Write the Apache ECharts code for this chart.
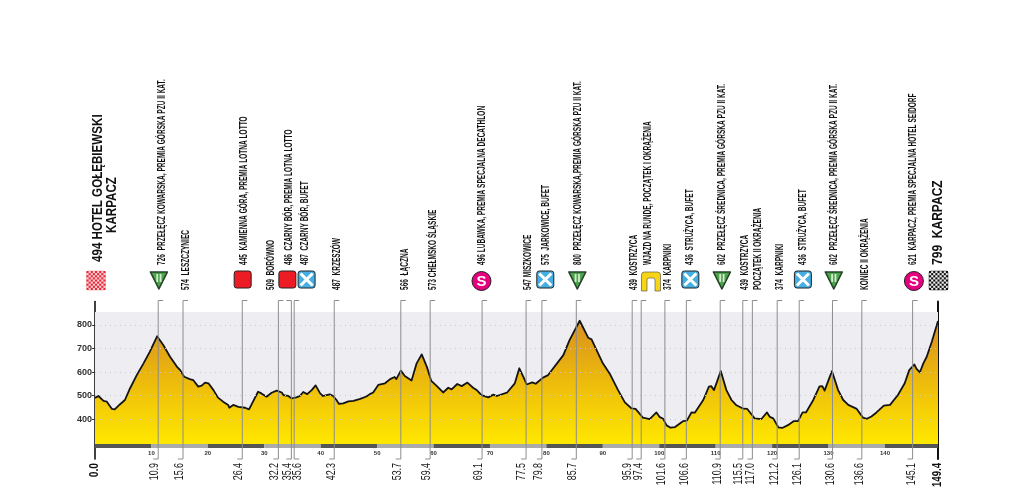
<!DOCTYPE html>
<html><head><meta charset="utf-8">
<style>html,body{margin:0;padding:0;background:#fff}#c{width:1024px;height:502px}</style>
<script src="https://cdn.jsdelivr.net/npm/echarts@6/dist/echarts.min.js"></script>
</head><body><div id="c"></div>
<script>
var profileKm=[0,0.6,1.5,2.1,3.0,3.5,4.4,5.3,6.2,7.4,8.6,9.7,11.0,12.1,13.3,14.5,15.1,15.8,16.8,17.4,18.3,18.9,19.5,20.1,21.0,21.8,22.7,23.6,23.8,24.5,25.4,26.6,27.3,28.0,28.9,29.5,30.4,31.3,32.2,33.1,33.4,34.2,34.8,35.7,36.3,36.9,37.6,38.4,39.1,39.9,40.4,41.0,41.6,42.2,42.8,43.2,44.0,44.9,45.8,47.0,48.1,48.7,49.3,50.2,51.4,52.3,53.1,53.4,54.2,54.9,56.1,57.0,57.9,58.8,59.6,60.5,61.7,62.6,63.2,64.2,65.0,66.0,67.0,67.7,68.5,69.7,70.6,71.2,73.0,74.4,75.2,75.9,76.5,77.5,78.1,79.4,80.3,83.0,84.1,85.9,87.4,88.0,90.0,91.2,92.7,93.9,95.1,95.8,97.1,98.3,99.5,100.1,100.7,101.3,102.0,102.8,104.2,104.9,105.7,106.3,107.8,108.8,109.2,109.7,110.9,111.9,112.8,113.6,114.9,115.6,116.9,118.1,119.1,119.6,120.2,121.1,121.8,122.8,123.8,124.6,125.4,126.0,127.3,128.4,128.9,129.3,130.6,131.7,132.6,133.5,135.0,136.1,136.8,137.6,138.5,139.8,140.9,142.3,143.5,144.3,145.2,145.6,146.2,146.8,147.4,148.3,149.4];
var profileElev=[490,498,477,474,443,441,462,481,530,587,637,686,752,715,665,623,608,580,570,566,538,542,555,552,523,491,474,460,448,460,452,448,441,474,516,509,495,512,521,513,502,499,488,492,498,515,506,523,543,509,498,502,505,498,481,465,467,475,477,486,496,506,513,545,552,570,579,570,606,583,564,637,675,623,562,542,513,533,526,549,540,555,533,522,502,492,504,498,512,552,616,580,547,556,550,576,587,672,736,818,746,739,637,594,523,471,445,443,406,400,428,408,401,373,363,366,391,393,428,427,481,538,540,523,604,523,481,460,444,443,403,400,428,409,403,365,362,374,391,391,428,428,481,539,540,521,604,523,481,460,443,406,401,411,428,457,460,502,552,608,632,613,599,637,665,729,817];

var kmRange=[0,149.4];
var elevRange=[230,900];
var yTicks=[400,500,600,700,800];
var xTicks=[10,20,30,40,50,60,70,80,90,100,110,120,130,140];
var baseElev=294;
var skyTop=855;
var bandStarts=[0,10,20,30,40,50,60,70,80,90,100,110,120,130,140];
var bandEnds=[10,20,30,40,50,60,70,80,90,100,110,120,130,140,149.4];

var lineKm=[11.2,15.6,26.1,32.5,34.8,35.3,42.4,54.2,59.4,68.6,76.4,79.2,85.3,95.2,96.8,101.0,104.8,110.8,114.8,116.5,120.9,124.8,130.7,135.9,144.9];
var kmLabels=["10.9","15.6","26.4","32.2","35.4","35.6","42.3","53.7","59.4","69.1","77.5","79.8","85.7","95.9","97.4","101.6","106.6","110.9","115.5","117.0","121.2","126.1","130.6","136.6","145.1"];
var topLabels=["726  PRZEŁĘCZ KOWARSKA, PREMIA GÓRSKA PZU II KAT.","574  LESZCZYNIEC","445  KAMIENNA GÓRA, PREMIA LOTNA LOTTO","509  BORÓWNO","486  CZARNY BÓR, PREMIA LOTNA LOTTO","487  CZARNY BÓR, BUFET","487  KRZESZÓW","566  ŁĄCZNA","573 CHEŁMSKO ŚLĄSKIE","496 LUBAWKA, PREMIA SPECJALNA DECATHLON","547 MISZKOWICE","575  JARKOWICE, BUFET","800  PRZEŁĘCZ KOWARSKA,PREMIA GÓRSKA PZU II KAT.","439  KOSTRZYCA","WJAZD NA RUNDĘ, POCZĄTEK I OKRĄŻENIA","374  KARPNIKI","436  STRUŻYCA, BUFET","602  PRZEŁĘCZ ŚREDNICA, PREMIA GÓRSKA PZU II KAT.","439  KOSTRZYCA","POCZĄTEK II OKRĄŻENIA","374  KARPNIKI","436  STRUŻYCA, BUFET","602  PRZEŁĘCZ ŚREDNICA, PREMIA GÓRSKA PZU II KAT.","KONIEC II OKRĄŻENIA","621  KARPACZ, PREMIA SPECJALNA HOTEL SEIDORF"];
var icons=["tri","","red","","red","blue","","","","s","","blue","tri","","arch","","blue","tri","","","","blue","tri","","s"];

var labelDx=[3.4,2.7,1.7,-7.6,-2.4,10.7,2.4,4,2.7,-0.6,2,4.4,1.3,1.7,6.3,2.7,4,1.4,2.7,5.3,2.7,4,1.3,2.7,0.3];
var iconDx=[0.7,0,0.4,0,-4,12.4,0,0,0,-0.6,0,3.4,1,0,9.8,0,4,1.7,0,0,0,3.7,1.3,0,1.3];
var kmDx=[-3.3,-3.3,-3.3,-3.3,-3.4,4,-2.6,-3,-3.6,-3.3,-4.3,-3.3,-3.4,-4,-2.4,-3,-1.7,-2.3,-4.3,-1.7,-2.3,-1.3,-2,-2.3,-1];
var bottomTickDir=[-1,-1,-1,-1,-1,1,-1,-1,-1,-1,-1,-1,-1,-1,-1,-1,-1,-1,-1,-1,-1,-1,-1,-1,-1];
var topTickDir=[1,1,1,1,-1,1,1,1,1,1,1,1,1,1,1,1,1,1,1,1,1,1,1,1,1];

var FONT="'Liberation Sans',Arial,sans-serif";
var INK="#111";

function rotText(txt,x,y,o){
  o=o||{};
  return {type:'text',x:x,y:y,rotation:Math.PI/2,scaleX:o.scale||1,z2:10,
    style:{text:txt,x:0,y:0,align:o.align||'left',verticalAlign:'middle',
      font:(o.bold===false?'':'bold ')+(o.size||10)+'px '+FONT,fill:o.color||INK}};
}
function checker(cx,top,size,a,b,stroke){
  var kids=[],n=9,s=size/n,x0=cx-size/2;
  kids.push({type:'rect',shape:{x:x0,y:top,width:size,height:size,r:2},style:{fill:b,stroke:stroke,lineWidth:0.6}});
  for(var i=0;i<n;i++)for(var j=0;j<n;j++){ if((i+j)%2===0)
    kids.push({type:'rect',shape:{x:x0+i*s,y:top+j*s,width:s,height:s},style:{fill:a}});}
  return {type:'group',children:kids};
}
function icon(kind,cx){
  var top=271;
  if(kind==='red') return {type:'group',children:[
    {type:'rect',shape:{x:cx-8.5,y:top,width:17,height:17,r:2.5},style:{fill:'#ed1c24',stroke:'#222',lineWidth:1}}]};
  if(kind==='blue') return {type:'group',children:[
    {type:'rect',shape:{x:cx-8.5,y:top,width:17,height:17,r:2.5},style:{fill:'#45aee3',stroke:'#222',lineWidth:1}},
    {type:'line',shape:{x1:cx-6,y1:top+2.5,x2:cx+6,y2:top+14.5},style:{stroke:'#fff',lineWidth:3}},
    {type:'line',shape:{x1:cx+6,y1:top+2.5,x2:cx-6,y2:top+14.5},style:{stroke:'#fff',lineWidth:3}}]};
  if(kind==='tri') return {type:'group',children:[
    {type:'polygon',shape:{points:[[cx-8.5,top+1],[cx+8.5,top+1],[cx,top+18]]},style:{fill:'#4aa54a',stroke:'#26402a',lineWidth:1.6,lineJoin:'round'}},
    {type:'rect',shape:{x:cx-2.6,y:top+3,width:1.8,height:8},style:{fill:'#d6ecd0'}},
    {type:'rect',shape:{x:cx+0.8,y:top+3,width:1.8,height:8},style:{fill:'#d6ecd0'}}]};
  if(kind==='s') return {type:'group',children:[
    {type:'circle',shape:{cx:cx,cy:top+10,r:9.5},style:{fill:'#e6007e',stroke:'#222',lineWidth:1}},
    {type:'text',x:cx,y:top+10.5,style:{text:'S',x:0,y:0,align:'center',verticalAlign:'middle',font:'bold 15px '+FONT,fill:'#fff'}}]};
  if(kind==='arch') return {type:'group',children:[
    {type:'path',shape:{pathData:'M0 19 L0 3 Q0 0 3 0 L16 0 Q19 0 19 3 L19 19 L13.5 19 L13.5 8 Q13.5 6 11.5 6 L7.5 6 Q5.5 6 5.5 8 L5.5 19 Z',x:cx-9.5,y:top+1,width:19,height:19},
     style:{fill:'#f7d417',stroke:'#444',lineWidth:0.6}}]};
  return {type:'group',children:[]};
}

var option={
  animation:false,backgroundColor:'#fff',
  grid:{left:95,right:86,top:301.5,bottom:43,containLabel:false},
  xAxis:{type:'value',min:kmRange[0],max:kmRange[1],interval:10,splitLine:{show:false},axisLine:{show:false},axisTick:{show:false},
    axisLabel:{inside:true,margin:2.5,customValues:xTicks,fontSize:6,fontWeight:'bold',fontFamily:FONT,color:'#333',hideOverlap:false}},
  yAxis:[
    {type:'value',min:elevRange[0],max:elevRange[1],interval:10,splitLine:{show:false},
     axisLine:{show:true,onZero:false,lineStyle:{color:'#111',width:1.6}},
     axisTick:{show:true,length:3,customValues:yTicks,lineStyle:{color:'#333',width:1}},
     axisLabel:{customValues:yTicks,margin:3,fontSize:9,fontWeight:'bold',fontFamily:FONT,color:'#333'}},
    {type:'value',position:'right',min:elevRange[0],max:elevRange[1],interval:10,splitLine:{show:false},
     axisLine:{show:true,onZero:false,lineStyle:{color:'#111',width:2}},axisTick:{show:false},axisLabel:{show:false}}
  ],
  series:[
    {type:'line',name:'sky',z:1,silent:true,symbol:'none',lineStyle:{width:0},data:[[kmRange[0],baseElev],[kmRange[1],baseElev]],
     markArea:{silent:true,itemStyle:{color:'#eeeef2'},data:[[{yAxis:baseElev},{yAxis:skyTop}]]},
     markLine:{silent:true,symbol:'none',label:{show:false},lineStyle:{color:'#c9c9cf',type:[1,4],width:1},data:yTicks.map(function(v){return {yAxis:v};})}},
    {type:'line',name:'profile',z:3,symbol:'none',smooth:false,silent:true,
     data:profileKm.map(function(k,i){return [k,profileElev[i]];}),
     lineStyle:{color:'#141414',width:1.8,join:'round'},
     areaStyle:{origin:baseElev,opacity:1,color:{type:'linear',x:0,y:0,x2:0,y2:1,colorStops:[{offset:0,color:'#d8901f'},{offset:0.45,color:'#ebb70d'},{offset:1,color:'#ffe800'}]}}},
    {type:'custom',name:'bands',z:4,silent:true,clip:false,
     data:bandStarts.map(function(k,i){return [k,bandEnds[i]];}),
     encode:{x:[0,1]},
     renderItem:function(p,api){
       var a=api.coord([api.value(0),baseElev]),b=api.coord([api.value(1),baseElev]);
       return {type:'rect',shape:{x:a[0],y:a[1],width:b[0]-a[0],height:4},
         style:{fill:p.dataIndex%2===0?'#555':'#ababab'}};
     }},
    {type:'custom',name:'markers',z:5,silent:true,clip:false,
     data:lineKm.map(function(k){return [k,baseElev];}),
     encode:{x:0,y:1},
     renderItem:function(p,api){
       var i=p.dataIndex,x=api.coord([api.value(0),baseElev])[0];
       var kids=[{type:'polyline',shape:{points:[[x+topTickDir[i]*5,300.5],[x,300.5],[x,459],[x+bottomTickDir[i]*5,459]]},
         style:{fill:'none',stroke:'#8d8d8d',lineWidth:1}}];
       kids.push(rotText(kmLabels[i],x+kmDx[i],463,{align:'right',size:12,scale:0.74,bold:false,color:'#1a1a1a'}));
       var hasIcon=!!icons[i];
       kids.push(rotText(topLabels[i],x+labelDx[i],hasIcon?265:290,{size:11,scale:0.595}));
       if(hasIcon) kids.push(icon(icons[i],x+iconDx[i]));
       return {type:'group',children:kids};
     }},
    {type:'custom',name:'ends',z:5,silent:true,clip:false,
     data:[[kmRange[0],baseElev],[kmRange[1],baseElev]],
     encode:{x:0,y:1},
     renderItem:function(p,api){
       var x=api.coord([api.value(0),baseElev])[0],kids=[];
       if(p.dataIndex===0){
         kids.push(rotText('494 HOTEL GOŁĘBIEWSKI',x+3,262,{size:14.5,scale:0.8}));
         kids.push(rotText('KARPACZ',x+17,233,{size:14.5,scale:0.8}));
         kids.push(rotText('0.0',x,463,{align:'right',size:12,scale:0.85}));
         kids.push(checker(x+1,271,19,'#e8283a','#fbd5d5','#e8a0a0'));
       } else {
         kids.push(rotText('799  KARPACZ',x-0.5,265,{size:14.5,scale:0.83}));
         kids.push(rotText('149.4',x,463,{align:'right',size:12,scale:0.8}));
         kids.push(checker(x+0.5,271,19,'#111','#eee','#444'));
       }
       return {type:'group',children:kids};
     }}
  ]
};
echarts.init(document.getElementById('c'),null,{renderer:'canvas'}).setOption(option);
</script></body></html>
